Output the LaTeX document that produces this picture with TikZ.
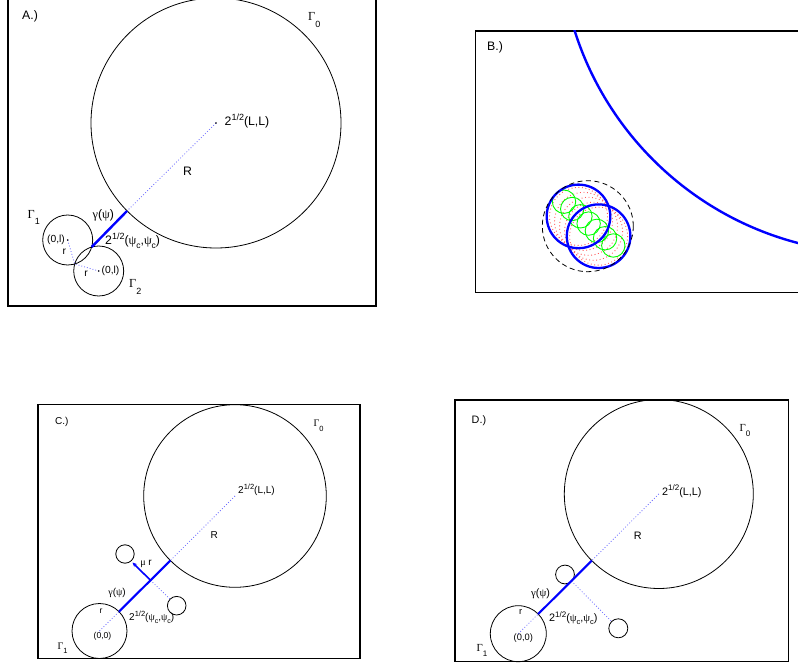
\documentclass[tikz,border=0pt]{standalone}
\usepackage{fontspec}
\setmainfont{Liberation Sans}
\newfontfamily\grk{Liberation Serif}
\usetikzlibrary{arrows.meta,calc}
\definecolor{dotblue}{RGB}{110,110,255}
\definecolor{dotred}{RGB}{255,90,90}
\newcommand\sups[3]{\raisebox{#1pt}{\fontsize{#2}{#2}\selectfont #3}}
\newcommand\subs[3]{\raisebox{-#1pt}{\fontsize{#2}{#2}\selectfont #3}}
\begin{document}
\begin{tikzpicture}[x=1pt,y=-1pt,
  frm/.style={draw=black,line width=1.3pt},
  circ/.style={draw=black,line width=0.8pt},
  gam/.style={draw=blue,line width=2.4pt},
  dotb/.style={draw=dotblue,line width=0.8pt,dash pattern=on 0.9pt off 2pt},
  lbl/.style={inner sep=0pt,anchor=base west},
  lblc/.style={inner sep=0pt,anchor=center},
  ctr/.style={fill=black,circle,inner sep=0pt,minimum size=1.8pt},
  fA/.style={font=\fontsize{12.3}{13}\selectfont},
  fAs/.style={font=\fontsize{10.3}{11}\selectfont},
  fB/.style={font=\fontsize{12.3}{13}\selectfont},
  fC/.style={font=\fontsize{10}{11}\selectfont},
  fCs/.style={font=\fontsize{8.6}{9}\selectfont},
  fD/.style={font=\fontsize{10.8}{11}\selectfont},
  fDs/.style={font=\fontsize{9.3}{10}\selectfont}
]
\useasboundingbox (0,0) rectangle (798,668);

% ================= Panel A =================
\draw[frm] (8,-1) rectangle (376,306);
\coordinate (A0) at (216,123);
\coordinate (AT) at (127,211);
\coordinate (AG1) at (67.7,240);
\coordinate (AG2) at (98.7,271);
\coordinate (AX) at (74.7,264);
\coordinate (AP) at (91.7,247);
\draw[circ] (A0) circle[radius=125];
\draw[circ] (AG1) circle[radius=25];
\draw[circ] (AG2) circle[radius=25];
\draw[dotb] (A0) -- (AT);
\draw[dotb] (AG1) -- (AX) -- (AG2);
\draw[gam] (AP) -- (AT);
\node[ctr] (dA0) at (A0) {};
\node[ctr] (dA1) at (AG1) {};
\node[ctr] (dA2) at (AG2) {};
\node[lbl,fA] (lA) at (22,19.5) {A.)};
\node[lbl,fA] (lAG0) at (308,21) {{\grk Γ}\subs{6.5}{9}{0}};
\node[lbl,fA] (lALL) at (224.5,125.5) {2\sups{5}{9}{1/2}(L,L)};
\node[lblc,fA] (lAR) at (187.5,171.5) {R};
\node[lblc,fA] (lAgam) at (103.3,215.5) {{\grk γ}({\grk ψ})};
\node[lbl,fA] (lApsi) at (105,244.5) {2\sups{5}{9}{1/2}({\grk ψ}\subs{4}{8.5}{c},{\grk ψ}\subs{4}{8.5}{c})};
\node[lbl,fA] (lAG1) at (27.5,218.3) {{\grk Γ}\subs{6.5}{9}{1}};
\node[lbl,fA] (lAG2) at (129,287.3) {{\grk Γ}\subs{7}{9}{2}};
\node[lblc,fAs] (lA01) at (56,239.5) {(0,l)};
\node[lblc,fAs] (lA02) at (110.5,270.5) {(0,l)};
\node[lblc,fAs] (lAr1) at (64.3,251.5) {r};
\node[lblc,fAs] (lAr2) at (86,274) {r};

% ================= Panel B =================
\draw[frm] (475.5,31) rectangle (800,292.5);
\node[lbl,fB] (lB) at (487,51) {B.)};
\begin{scope}
  \clip (475.5,31) rectangle (800,292.5);
  \draw[blue,line width=2.4pt] (878.6,-65.4) circle[radius=318.7];
\end{scope}
\coordinate (B1) at (578.5,216.4);
\coordinate (B2) at (598.6,236.2);
\foreach \t in {0,0.25,0.5,0.75,1}{
  \draw[dotred,line width=0.9pt,dash pattern=on 0.9pt off 2.6pt] ($(B1)!\t!(B2)$) circle[radius=29];
}
\coordinate (GS) at (564,201.7);
\coordinate (GE) at (613.3,245.5);
\foreach \t in {0,0.1667,0.3333,0.5,0.6667,0.8333,1}{
  \draw[green,line width=0.9pt] ($(GS)!\t!(GE)$) circle[radius=11.7];
}
\draw[blue,line width=2.3pt] (B1) circle[radius=31.8];
\draw[blue,line width=2.3pt] (B2) circle[radius=31.8];
\draw[black,line width=0.8pt,dash pattern=on 5pt off 3.5pt] (587.8,226.2) circle[radius=45.5];

% ================= Panel C =================
\draw[frm] (38,404.5) rectangle (360,658.5);
\coordinate (C0) at (235,496);
\coordinate (C1) at (99.5,631);
\coordinate (CP) at (119,611.6);
\coordinate (CT) at (170.4,560.5);
\coordinate (CJ) at (150.5,580.3);
\coordinate (CU) at (125,554);
\coordinate (CL) at (176.7,605.7);
\coordinate (CA) at (132.5,562.5);
\coordinate (CLb) at (170.2,599.2);
\draw[circ] (C0) circle[radius=91.3];
\draw[circ] (C1) circle[radius=27.5];
\draw[circ] (CU) circle[radius=9.2];
\draw[circ] (CL) circle[radius=9.3];
\draw[dotb] (C0) -- (CT);
\draw[dotb] (C1) -- (CP);
\draw[dotb] (CJ) -- (CLb);
\draw[gam,line width=2.1pt] (CP) -- (CT);
\draw[draw=blue,line width=1.6pt,-{Stealth[length=4.5pt,width=4pt]}] (CJ) -- (CA);
\node[lbl,fC] (lC) at (55,424) {C.)};
\node[lbl,fC] (lCG0) at (313.5,426) {{\grk Γ}\subs{5}{7.5}{0}};
\node[lbl,fC] (lCLL) at (238,493) {2\sups{4}{7.5}{1/2}(L,L)};
\node[lblc,fC] (lCR) at (214.3,535) {R};
\node[lblc,fC] (lCmu) at (146,564) {{\grk μ} r};
\node[lblc,fC] (lCgam) at (117,593) {{\grk γ}({\grk ψ})};
\node[lbl,fC] (lCpsi) at (129,620.5) {2\sups{4}{7.5}{1/2}({\grk ψ}\subs{3}{7}{c},{\grk ψ}\subs{3}{7}{c})};
\node[lblc,fCs] (lCr) at (101,611.5) {r};
\node[lblc,fCs] (lC00) at (102.5,636.7) {(0,0)};
\node[lbl,fC] (lCG1) at (57.5,649) {{\grk Γ}\subs{4}{7.5}{1}};

% ================= Panel D =================
\draw[frm] (455,400) rectangle (788.3,661.7);
\coordinate (D0) at (658.8,494);
\coordinate (D1) at (518.3,633.7);
\coordinate (DP) at (538.2,614);
\coordinate (DT) at (591.8,560.6);
\coordinate (DU) at (565,574.5);
\coordinate (DL) at (618.3,628.3);
\coordinate (DUt) at (571.6,581.2);
\coordinate (DLb) at (611.7,621.6);
\draw[circ] (D0) circle[radius=94.5];
\draw[circ] (D1) circle[radius=28];
\draw[circ] (DU) circle[radius=9.4];
\draw[circ] (DL) circle[radius=9.5];
\draw[dotb] (D0) -- (DT);
\draw[dotb] (D1) -- (DP);
\draw[dotb] (DUt) -- (DLb);
\draw[gam,line width=2.1pt] (DP) -- (DT);
\node[lbl,fD] (lD) at (471.5,423.5) {D.)};
\node[lbl,fD] (lDG0) at (739.5,431) {{\grk Γ}\subs{5}{8}{0}};
\node[lbl,fD] (lDLL) at (662,495) {2\sups{4.5}{8}{1/2}(L,L)};
\node[lblc,fD] (lDR) at (637.7,535.7) {R};
\node[lblc,fD] (lDgam) at (540.5,594) {{\grk γ}({\grk ψ})};
\node[lbl,fD] (lDpsi) at (549,621.5) {2\sups{4.5}{8}{1/2}({\grk ψ}\subs{3}{7.5}{c},{\grk ψ}\subs{3}{7.5}{c})};
\node[lblc,fDs] (lDr) at (520.7,611.7) {r};
\node[lblc,fDs] (lD00) at (523.3,638.3) {(0,0)};
\node[lbl,fD] (lDG1) at (476.5,651.7) {{\grk Γ}\subs{4.5}{8}{1}};
\end{tikzpicture}
\end{document}
